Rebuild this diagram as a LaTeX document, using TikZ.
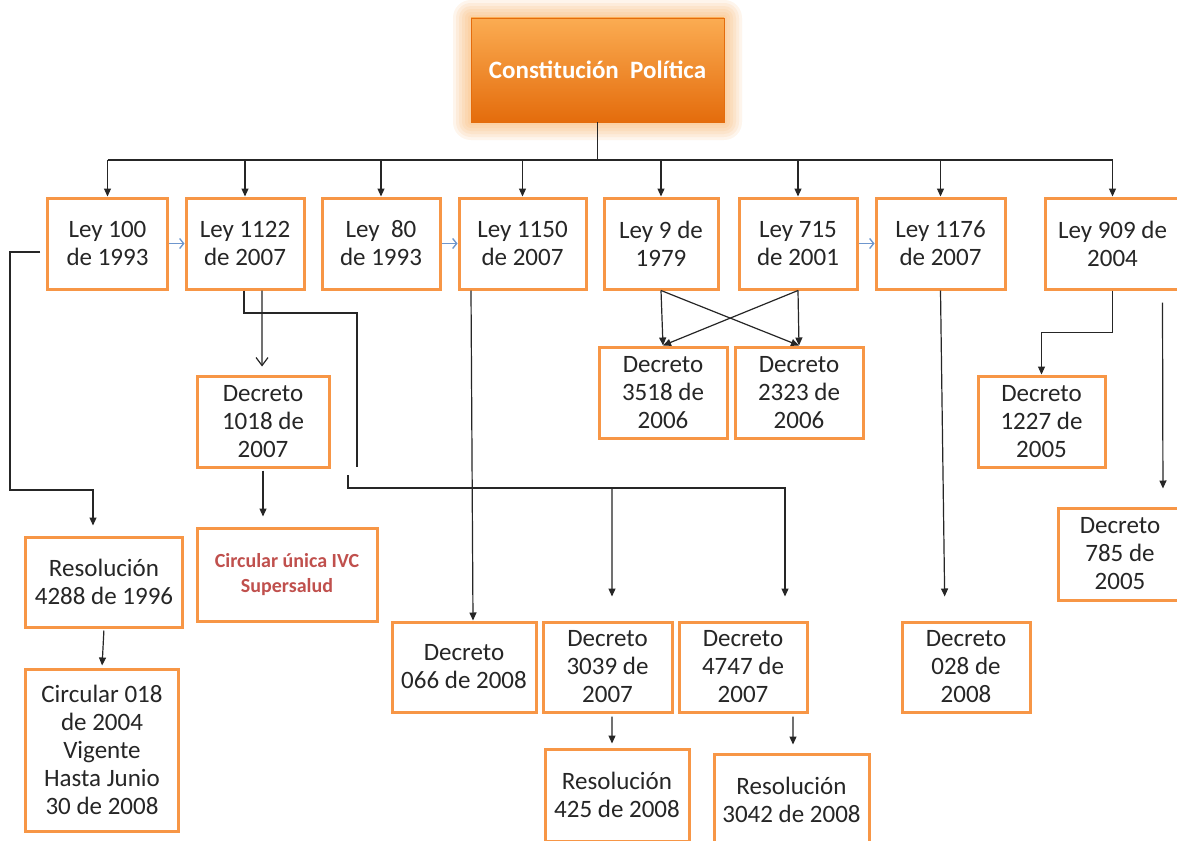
\documentclass[tikz,border=0pt]{standalone}
\usepackage{fontspec}
\setmainfont{Carlito}
\usetikzlibrary{arrows.meta}
\definecolor{cajaborde}{RGB}{247,150,70}
\definecolor{azulgris}{RGB}{110,150,205}
\definecolor{rojocirc}{RGB}{192,80,77}
\definecolor{naranjaA}{RGB}{251,172,82}
\definecolor{naranjaB}{RGB}{228,108,12}

\begin{document}
\begin{tikzpicture}[x=1bp,y=-1bp,
  caja/.style={draw=cajaborde, line width=3bp, fill=white, align=center, inner sep=0pt,
    text=black!85, font=\fontsize{25bp}{28bp}\selectfont},
  conector/.style={draw=black!85, line width=1.2bp},
  flecha/.style={conector, -{Triangle[length=8bp,width=7bp]}},
  flechav/.style={conector, -{Straight Barb[length=8bp,width=12bp]}},
  flechaazul/.style={draw=azulgris, line width=1.3bp, -{Straight Barb[length=4bp,width=10bp]}}]
 \def\altoley{91bp}

    %Fondo
    \fill[white] (0,0) rectangle (1177,841);
    \useasboundingbox (0,0) rectangle (1177,841);

    % Constitucion
    \foreach \g in {18,15,12,9,6,3}
      \fill[naranjaA, opacity=0.11, rounded corners=\g] (471-\g,18-\g) rectangle (724+\g,122+\g);
    \node[draw=naranjaB, line width=0.8bp, top color=naranjaA, bottom color=naranjaB,
      minimum width=253bp, minimum height=104bp, text=white,
      font=\fontsize{25bp}{28bp}\selectfont\bfseries] (cp) at (597.5,70) {Constitución~ Política};

    % Leyes
    \node[caja, minimum width=119bp, minimum height=\altoley] (ley100) at (107.5,243.5) {Ley 100\\de 1993};
    \node[caja, minimum width=118bp, minimum height=\altoley] (ley1122) at (245,243.5) {Ley 1122\\de 2007};
    \node[caja, minimum width=118bp, minimum height=\altoley] (ley80) at (381,243.5) {Ley~ 80\\de 1993};
    \node[caja, minimum width=127bp, minimum height=\altoley] (ley1150) at (522.5,243.5) {Ley 1150\\de 2007};
    \node[caja, minimum width=114bp, minimum height=\altoley] (ley9) at (661,243.5) {Ley 9 de\\1979};
    \node[caja, minimum width=118bp, minimum height=\altoley] (ley715) at (798,243.5) {Ley 715\\de 2001};
    \node[caja, minimum width=129bp, minimum height=\altoley] (ley1176) at (940.5,243.5) {Ley 1176\\de 2007};
    \node[caja, minimum width=135bp, minimum height=\altoley] (ley909) at (1112.5,243.5) {Ley 909 de\\2004};

    % Decretos y resoluciones
    \node[caja, minimum width=132bp, minimum height=91bp] (dec1018) at (263,421.5) {Decreto\\1018 de\\2007};
    \node[caja, minimum width=128bp, minimum height=91bp] (dec3518) at (663,392.5) {Decreto\\3518 de\\2006};
    \node[caja, minimum width=128bp, minimum height=91bp] (dec2323) at (799,392.5) {Decreto\\2323 de\\2006};
    \node[caja, minimum width=127bp, minimum height=91bp] (dec1227) at (1041.5,421.5) {Decreto\\1227 de\\2005};
    \node[caja, minimum width=124bp, minimum height=92bp] (dec785) at (1120,554) {Decreto\\785 de\\2005};
    \node[caja, minimum width=156bp, minimum height=90bp] (res4288) at (104,582) {Resolución\\4288 de 1996};
    \node[caja, minimum width=180bp, minimum height=93bp, text=rojocirc,
      font=\fontsize{20bp}{25bp}\selectfont\bfseries] (circunica) at (287,574.5) {Circular única IVC\\Supersalud};
    \node[caja, minimum width=152bp, minimum height=162bp] (circ018) at (102,750)
      {Circular 018\\de 2004\\Vigente\\Hasta Junio\\30 de 2008};
    \node[caja, minimum width=144bp, minimum height=90bp] (dec066) at (464,667) {Decreto\\066 de 2008};
    \node[caja, minimum width=129bp, minimum height=90bp] (dec3039) at (607.5,667) {Decreto\\3039 de\\2007};
    \node[caja, minimum width=128bp, minimum height=90bp] (dec4747) at (743,667) {Decreto\\4747 de\\2007};
    \node[caja, minimum width=128bp, minimum height=90bp] (dec028) at (966,667) {Decreto\\028 de\\2008};
    \node[caja, minimum width=144bp, minimum height=92bp] (res425) at (617,795) {Resolución\\425 de 2008};
    \node[caja, minimum width=155bp, minimum height=92bp] (res3042) at (791.5,800) {Resolución\\3042 de 2008};

    % Tronco
    \coordinate (bus) at (597.5,160);
    \draw[conector] (cp.south) -- (bus);
    \draw[conector] (ley100.north |- bus) -- (ley909.north |- bus);
    \foreach \n in {ley100,ley1122,ley80,ley1150,ley9,ley715,ley1176,ley909}
      \draw[flecha] (\n.north |- bus) -- (\n.north);

    % Flechas azules
    \draw[flechaazul] (ley100.east) -- (ley1122.west);
    \draw[flechaazul] (ley80.east) -- (ley1150.west);
    \draw[flechaazul] (ley715.east) -- (ley1176.west);

    % Ley 100
    \coordinate (izq) at (40,252);
    \draw[flecha, shorten >=10bp] (izq) -| (10,490) -| ([xshift=-11bp]res4288.north);
    \draw[flecha, shorten <=2bp, shorten >=2bp] (res4288.south) -- (circ018.north);

    % Ley 1122
    \draw[flechav, shorten >=8bp] ([xshift=17bp]ley1122.south) -- ([xshift=-1bp]dec1018.north);
    \draw[flecha, shorten <=2bp, shorten >=10bp] (dec1018.south) -- (dec1018.south |- circunica.north);
    \coordinate (corte) at (357,467);
    \coordinate (sigue) at (348,475);
    \coordinate (bus2) at (612,488);
    \draw[conector] ([xshift=-1bp]ley1122.south) |- (corte |- 0,313) -- (corte);
    \draw[flecha, shorten >=24bp] (sigue) |- ([xshift=42bp]dec4747.north |- bus2) -- ([xshift=42bp]dec4747.north);
    \draw[flecha, shorten >=24bp] (bus2) -- ([xshift=4.5bp]dec3039.north);
    \draw[flecha, shorten <=3bp, shorten >=4bp] ([xshift=4.5bp]dec3039.south) -- ([xshift=-5bp]res425.north);
    \draw[flecha, shorten <=3bp, shorten >=8bp] ([xshift=50bp]dec4747.south) -- ([xshift=1.5bp]res3042.north);

    % Ley 1150
    \draw[flecha] ([xshift=-51.5bp]ley1150.south) -- ([xshift=9bp]dec066.north);

    % Ley 9 y Ley 715
    \draw[flecha] (ley9.south) -- (dec3518.north);
    \draw[flecha] (ley9.south) -- (dec2323.north);
    \draw[flecha] (ley715.south) -- (dec2323.north);
    \draw[flecha] (ley715.south) -- (dec3518.north);

    % Ley 1176
    \draw[flecha, shorten >=24bp] (ley1176.south) -- ([xshift=-21bp]dec028.north);

    % Ley 909
    \draw[flecha] (ley909.south) -- ++(0,42) -| (dec1227.north);
    \draw[flecha, shorten >=18bp] ([xshift=50bp,yshift=-12bp]ley909.south) -- ([xshift=43bp]dec785.north);
\end{tikzpicture}
\end{document}
